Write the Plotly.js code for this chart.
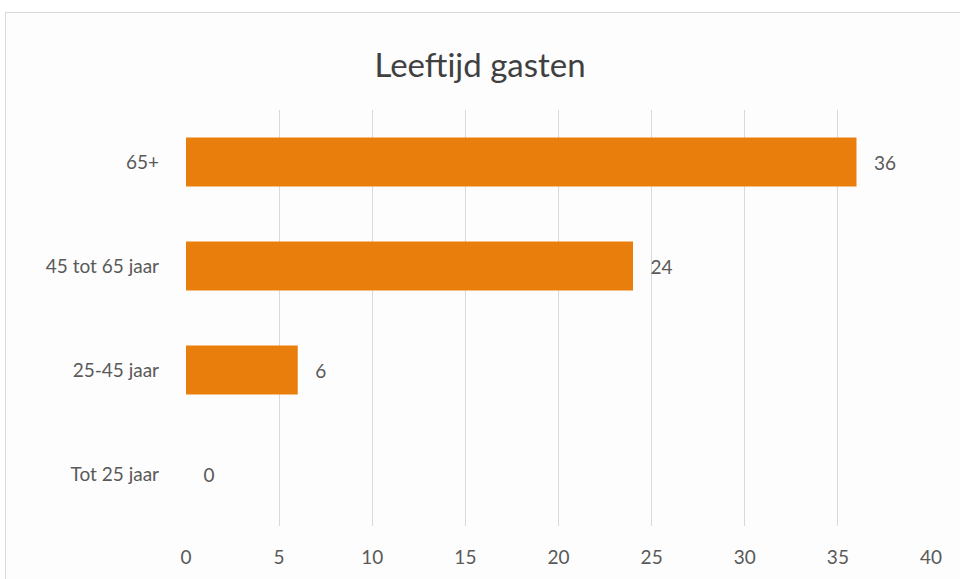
<!DOCTYPE html>
<html>
<head>
<meta charset="utf-8">
<script src="https://cdn.plot.ly/plotly-3.0.1.min.js"></script>
<style>
  html, body { margin: 0; padding: 0; background: #ffffff; }
  #frame { position: absolute; left: 5px; top: 12px; width: 1000px; height: 1000px; border: 1px solid #d9d9d9; box-sizing: border-box; background: #fdfdfd; }
  #chart { position: absolute; left: 0; top: 0; width: 960px; height: 579px; }
</style>
</head>
<body>
<div id="frame"></div>
<div id="chart"></div>
<script>
const categories = ["Tot 25 jaar", "25-45 jaar", "45 tot 65 jaar", "65+"];
const values = [0, 6, 24, 36];
const xTicks = [0, 5, 10, 15, 20, 25, 30, 35, 40];

const font = "Lato, 'Open Sans', 'Liberation Sans', sans-serif";

const trace = {
  type: "bar",
  orientation: "h",
  y: categories,
  x: values,
  marker: { color: "#EA7E0C" },
  text: values.map(v => "   " + v),
  textposition: "outside",
  textfont: { family: font, size: 19, color: "#595959" },
  cliponaxis: false,
  hoverinfo: "none"
};

const layout = {
  width: 960,
  height: 579,
  paper_bgcolor: "rgba(0,0,0,0)",
  plot_bgcolor: "rgba(0,0,0,0)",
  margin: { l: 186, r: 29, t: 110, b: 53 },
  bargap: 0.53,
  showlegend: false,
  title: {
    text: "Leeftijd gasten",
    font: { family: font, size: 33, color: "#404040" },
    x: 0.5, xanchor: "center",
    y: 0.887, yanchor: "middle"
  },
  xaxis: {
    range: [0, 40],
    tickvals: xTicks,
    ticktext: xTicks.map(String),
    showgrid: true,
    gridcolor: "#d9d9d9",
    gridwidth: 1,
    zeroline: false,
    showline: false,
    ticks: "",
    ticklabelstandoff: 18,
    tickfont: { family: font, size: 19, color: "#595959" },
    fixedrange: true
  },
  yaxis: {
    type: "category",
    categoryorder: "array",
    categoryarray: categories,
    showgrid: false,
    zeroline: false,
    showline: false,
    ticks: "",
    ticklabelstandoff: 26,
    tickfont: { family: font, size: 19, color: "#595959" },
    fixedrange: true
  }
};

Plotly.newPlot("chart", [trace], layout, { displayModeBar: false, staticPlot: true });
</script>
</body>
</html>
